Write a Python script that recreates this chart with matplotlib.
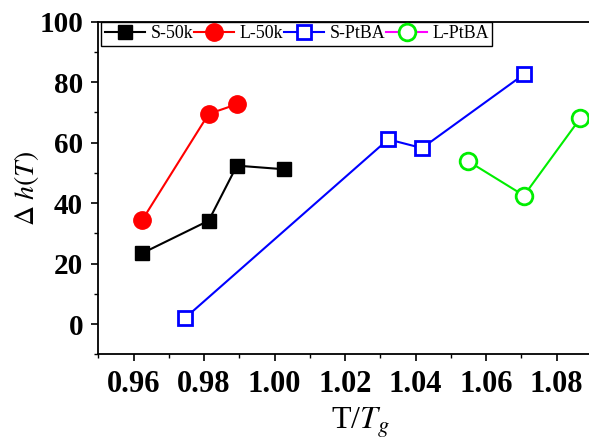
import matplotlib
matplotlib.use("Agg")
import matplotlib.pyplot as plt
from matplotlib.lines import Line2D
from matplotlib.ticker import MultipleLocator

plt.rcParams['font.family'] = ['Liberation Serif', 'DejaVu Serif']
plt.rcParams['mathtext.fontset'] = 'stix'

# Data
s50k_x = [0.9624, 0.9813, 0.9893, 1.0027]
s50k_y = [23.4, 34.2, 52.4, 51.2]
l50k_x = [0.9625, 0.9813, 0.9893]
l50k_y = [34.5, 69.5, 72.7]
sptba_x = [0.9745, 1.0322, 1.0418, 1.0707]
sptba_y = [1.9, 61.1, 58.2, 82.6]
lptba_x = [1.0547, 1.0707, 1.0867]
lptba_y = [54.0, 42.5, 68.1]
labels = ['S-50k', 'L-50k', 'S-PtBA', 'L-PtBA']
xticks = [0.96, 0.98, 1.00, 1.02, 1.04, 1.06, 1.08]
yticks = [0, 20, 40, 60, 80, 100]

fig = plt.figure(figsize=(5.89, 4.43), dpi=100)
ax = fig.add_axes([0.1669, 0.2002, 0.8382, 0.7508])

ax.plot(s50k_x, s50k_y, color='black', lw=1.5, marker='s', ms=10.5,
        mfc='black', mec='black')
ax.plot(l50k_x, l50k_y, color='red', lw=1.5, marker='o', ms=12.5,
        mfc='red', mec='red')
ax.plot(sptba_x, sptba_y, color='blue', lw=1.5, marker='s', ms=10.5,
        mfc='white', mec='blue', mew=2)
ax.plot(lptba_x, lptba_y, color='#00ee00', lw=1.5, marker='o', ms=12,
        mfc='white', mec='#00ee00', mew=2)

ax.set_xlim(0.95, 1.09)
ax.set_ylim(-10, 100)
ax.set_xticks(xticks)
ax.set_xticklabels([f'{t:.2f}' for t in xticks])
ax.set_yticks(yticks)
ax.xaxis.set_minor_locator(MultipleLocator(0.01))
ax.yaxis.set_minor_locator(MultipleLocator(10))
ax.tick_params(which='major', direction='out', length=5, width=1.2, pad=6)
ax.tick_params(axis='x', which='major', labelsize=22)
ax.tick_params(axis='y', which='major', labelsize=21)
ax.tick_params(which='minor', direction='out', length=3, width=1.0)
for lab in ax.get_xticklabels() + ax.get_yticklabels():
    lab.set_fontweight('bold')
for sp in ax.spines.values():
    sp.set_linewidth(1.3)
ax.spines['right'].set_visible(False)

ax.set_xlabel(r'T/$T_g$', fontsize=23, labelpad=9)
ax.xaxis.set_label_coords(0.53, -0.155)
ax.xaxis.label.set_va('top')
ax.set_ylabel(r'$\Delta\ h(T)$', fontsize=20, labelpad=-1)

handles = [
    Line2D([], [], color='black', lw=1.5, marker='s', ms=10.5, mfc='black', mec='black'),
    Line2D([], [], color='red', lw=1.5, marker='o', ms=12.5, mfc='red', mec='red'),
    Line2D([], [], color='blue', lw=1.5, marker='s', ms=10.5, mfc='white', mec='blue', mew=2),
    Line2D([], [], color='magenta', lw=1.5, marker='o', ms=12, mfc='white', mec='#00ee00', mew=2),
]
leg = ax.legend(handles, labels, ncol=4, loc='upper left',
                bbox_to_anchor=(0.006, 1.0), borderaxespad=0,
                fontsize=12.9, handlelength=2.25, handletextpad=0.3,
                columnspacing=0.05, borderpad=0.2, fancybox=False,
                frameon=True, edgecolor='black', framealpha=1)
leg.get_frame().set_linewidth(1.0)

fig.savefig('out.png', dpi=100)
